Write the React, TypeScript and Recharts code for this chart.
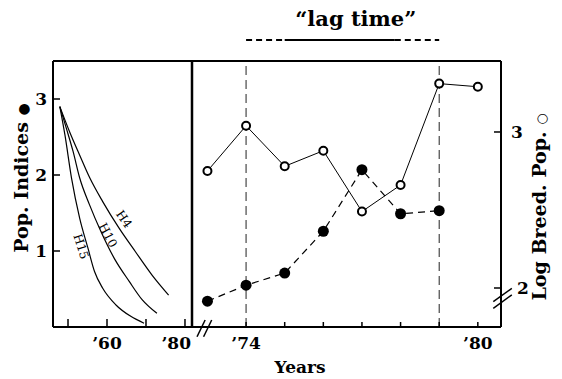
import React from "react";
import { LineChart, Line, XAxis, YAxis, ReferenceLine, ReferenceDot } from "recharts";

const FONT = "'DejaVu Serif', serif";

// right panel: survey years 1973-1980
const years = [73, 74, 75, 76, 77, 78, 79, 80];
const logBreedPop = [2.75, 3.04, 2.78, 2.88, 2.49, 2.66, 3.31, 3.29];
const popIndices = [0.34, 0.55, 0.71, 1.26, 2.07, 1.49, 1.53];

// left panel: projected declines
const h4Years = [47.9, 50.4, 53.0, 55.6, 58.9, 63.1, 67.3, 71.6, 75.8];
const h4Vals = [2.9, 2.57, 2.26, 1.96, 1.65, 1.3, 0.99, 0.68, 0.42];
const h10Years = [47.9, 49.6, 51.3, 53.0, 55.5, 58.5, 61.9, 65.7, 69.0, 72.8];
const h10Vals = [2.9, 2.61, 2.31, 1.96, 1.61, 1.25, 0.9, 0.6, 0.36, 0.18];
const h15Years = [47.9, 49.2, 50.9, 53.0, 55.1, 56.8, 58.9, 62.3, 66.1, 69.5];
const h15Vals = [2.9, 2.53, 1.96, 1.43, 1.04, 0.73, 0.51, 0.29, 0.14, 0.05];

// curve names and where they sit (year, value, angle)
const curveNames = ["H4", "H10", "H15"];
const curveLabelYears = [64.4, 60.3, 53.4];
const curveLabelVals = [1.42, 1.21, 1.06];
const curveLabelAngles = [55, 62, 72];

const leftYearTicks = [50, 60, 70, 80];
const leftYearLabels: Record<number, string> = { 60: "\u201960", 80: "\u201980" };
const rightYearTicks = [74, 75, 76, 77, 78, 79, 80];
const rightYearLabels: Record<number, string> = { 74: "\u201974", 80: "\u201980" };
const popTicks = [1, 2, 3];
const logTicks = [2, 3];

const markerYears = [74, 79];
// lag time bar: dashed 74-75, solid 75-77.85, dashed 77.85-79
const lagYears = [74, 75, 77.85, 79];
const lagLevel = 3.59;

const rows = years.map((y, i) => ({ year: y, logBreed: logBreedPop[i], popIndex: popIndices[i] }));
const toRows = (xs: number[], vs: number[]) => xs.map((x, i) => ({ year: x, v: vs[i] }));
const curves = [toRows(h4Years, h4Vals), toRows(h10Years, h10Vals), toRows(h15Years, h15Vals)];

const txt = { fontFamily: FONT, fontWeight: "bold" as const, fill: "#000" };

function PopTick(props: any) {
  const { x, y, payload } = props;
  return (
    <g>
      <line x1={x} y1={y} x2={x + 7} y2={y} stroke="#000" strokeWidth={1.5} />
      <text x={x - 6} y={y} textAnchor="end" dominantBaseline="central" fontSize={17} {...txt}>
        {payload.value}
      </text>
    </g>
  );
}

function LogTick(props: any) {
  const { x, y, payload } = props;
  return (
    <g>
      <line x1={x - 7} y1={y} x2={x} y2={y} stroke="#000" strokeWidth={1.5} />
      <text x={x + 10 + (payload.value === 2 ? 6 : 0)} y={y} textAnchor="start" dominantBaseline="central" fontSize={17} {...txt}>
        {payload.value}
      </text>
    </g>
  );
}

function makeYearTick(labels: Record<number, string>, len: number, shiftLast: boolean) {
  return (props: any) => {
    const { x, y, payload } = props;
    const lab = labels[payload.value];
    const end = shiftLast && payload.value === 80;
    return (
      <g>
        <line x1={x} y1={y} x2={x} y2={y - len} stroke="#000" strokeWidth={1.5} />
        {lab && (
          <text x={end ? x + 6 : x} y={y + 22} textAnchor={end ? "end" : "middle"} fontSize={17} {...txt}>
            {lab}
          </text>
        )}
      </g>
    );
  };
}

const popTitle = () => (
  <text transform="translate(28,178) rotate(-90)" textAnchor="middle" fontSize={19} {...txt}>
    Pop. Indices <tspan fontSize={14}>{"\u25CF"}</tspan>
  </text>
);

const logTitle = () => (
  <text transform="translate(396,207) rotate(-90)" textAnchor="middle" fontSize={19} {...txt}>
    Log Breed. Pop. <tspan fontSize={13}>{"\u25CB"}</tspan>
  </text>
);

const yearsTitle = () => (
  <text x={150} y={373} textAnchor="middle" fontSize={17} {...txt}>
    Years
  </text>
);

export default function App() {
  return (
    <div style={{ position: "absolute", left: 0, top: 0, width: 562, height: 379, background: "#fff" }}>
      <div style={{ position: "absolute", left: 0, top: 0 }}>
        <LineChart width={200} height={379} margin={{ top: 61, right: 8, bottom: 22, left: 0 }}>
          <XAxis
            dataKey="year"
            type="number"
            domain={[46.15, 81.8]}
            allowDataOverflow
            ticks={leftYearTicks}
            interval={0}
            height={30}
            tickSize={0}
            tickMargin={0}
            tickLine={false}
            axisLine={{ stroke: "#000", strokeWidth: 2 }}
            tick={makeYearTick(leftYearLabels, 8, true)}
          />
          <YAxis
            type="number"
            domain={[0, 3.5]}
            allowDataOverflow
            ticks={popTicks}
            interval={0}
            width={53}
            tickSize={0}
            tickMargin={0}
            tickLine={false}
            axisLine={{ stroke: "#000", strokeWidth: 2 }}
            tick={PopTick}
            label={popTitle}
          />
          <ReferenceLine y={3.5} stroke="#000" strokeWidth={2} ifOverflow="visible" />
          {curves.map((d, i) => (
            <Line
              key={curveNames[i]}
              data={d}
              dataKey="v"
              type="monotone"
              stroke="#000"
              strokeWidth={1.2}
              dot={false}
              activeDot={false}
              isAnimationActive={false}
            />
          ))}
          {curveNames.map((n, i) => (
            <ReferenceDot
              key={n}
              x={curveLabelYears[i]}
              y={curveLabelVals[i]}
              r={0}
              stroke="none"
              ifOverflow="visible"
              label={{ value: n, position: "center", angle: curveLabelAngles[i], fontSize: 12, fontFamily: FONT, fill: "#000" }}
            />
          ))}
        </LineChart>
      </div>
      <div style={{ position: "absolute", left: 150, top: 0 }}>
        <LineChart data={rows} width={412} height={379} margin={{ top: 61, right: 0, bottom: 22, left: 0 }}>
          <XAxis
            dataKey="year"
            type="number"
            domain={[72.6, 80.6]}
            allowDataOverflow
            ticks={rightYearTicks}
            interval={0}
            height={30}
            tickSize={0}
            tickMargin={0}
            tickLine={false}
            axisLine={{ stroke: "#000", strokeWidth: 2 }}
            tick={makeYearTick(rightYearLabels, 5, false)}
            label={yearsTitle}
          />
          <YAxis
            yAxisId="pop"
            type="number"
            domain={[0, 3.5]}
            allowDataOverflow
            width={42}
            tick={false}
            tickLine={false}
            axisLine={{ stroke: "#000", strokeWidth: 2.5 }}
          />
          <YAxis
            yAxisId="log"
            orientation="right"
            type="number"
            domain={[1.75, 3.455]}
            allowDataOverflow
            ticks={logTicks}
            interval={0}
            width={61}
            tickSize={0}
            tickMargin={0}
            tickLine={false}
            axisLine={{ stroke: "#000", strokeWidth: 2 }}
            tick={LogTick}
            label={logTitle}
          />
          <ReferenceLine yAxisId="pop" y={3.5} stroke="#000" strokeWidth={2} ifOverflow="visible" />
          {markerYears.map((yr) => (
            <ReferenceLine key={yr} yAxisId="pop" x={yr} stroke="#222" strokeWidth={1} strokeDasharray="9 5" />
          ))}
          {lagYears.slice(0, -1).map((yr, i) => (
            <ReferenceLine
              key={"lag" + i}
              yAxisId="log"
              ifOverflow="visible"
              segment={[
                { x: yr, y: lagLevel },
                { x: lagYears[i + 1], y: lagLevel },
              ]}
              stroke="#000"
              strokeWidth={2}
              strokeDasharray={i === 1 ? undefined : "6 4"}
            />
          ))}
          <ReferenceDot
            yAxisId="log"
            x={76.84}
            y={3.724}
            r={0}
            stroke="none"
            ifOverflow="visible"
            label={{ value: "\u201Clag time\u201D", position: "center", fontSize: 21, fontFamily: FONT, fontWeight: "bold", fill: "#000" }}
          />
          {/* axis breaks */}
          {[0, 0.17].map((dx) => (
            <ReferenceLine
              key={"bx" + dx}
              yAxisId="pop"
              ifOverflow="visible"
              segment={[
                { x: 72.73 + dx, y: -0.128 },
                { x: 72.94 + dx, y: 0.092 },
              ]}
              stroke="#000"
              strokeWidth={1.5}
            />
          ))}
          {[0, 0.042].map((dy) => (
            <ReferenceLine
              key={"by" + dy}
              yAxisId="log"
              ifOverflow="visible"
              segment={[
                { x: 80.4, y: 1.912 - dy },
                { x: 80.88, y: 1.998 - dy },
              ]}
              stroke="#000"
              strokeWidth={1.5}
            />
          ))}
          <Line
            yAxisId="pop"
            dataKey="popIndex"
            stroke="#000"
            strokeWidth={1.2}
            strokeDasharray="7 5"
            dot={{ r: 5.5, fill: "#000", stroke: "none" }}
            activeDot={false}
            isAnimationActive={false}
          />
          <Line
            yAxisId="log"
            dataKey="logBreed"
            stroke="#000"
            strokeWidth={1}
            dot={{ r: 4, fill: "#fff", stroke: "#000", strokeWidth: 2 }}
            activeDot={false}
            isAnimationActive={false}
          />
        </LineChart>
      </div>
    </div>
  );
}
